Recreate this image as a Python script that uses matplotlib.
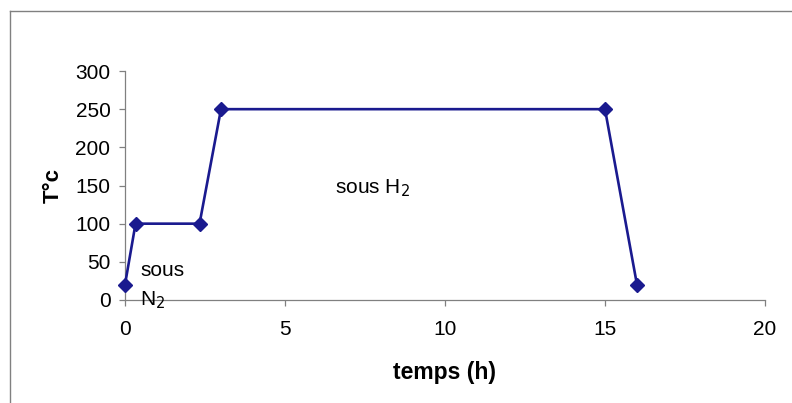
import matplotlib
matplotlib.use('Agg')
import matplotlib.pyplot as plt
from matplotlib.lines import Line2D

plt.rcParams['font.family'] = ['Liberation Sans', 'DejaVu Sans']

# profil de température
temps = [0, 0.33, 2.33, 3, 15, 16]
temperature = [20, 100, 100, 250, 250, 20]

x_ticks = [0, 5, 10, 15, 20]
y_ticks = [0, 50, 100, 150, 200, 250, 300]

fig = plt.figure(figsize=(7.92, 4.03), dpi=100)
ax = fig.add_axes([0.1578, 0.2556, 0.8081, 0.5682])

ax.plot(temps, temperature, color='#1a1a8f', lw=1.9,
        marker='D', markersize=7.5, markerfacecolor='#1a1a8f',
        markeredgecolor='#1a1a8f', clip_on=False, zorder=3)

ax.set_xlim(0, 20)
ax.set_ylim(0, 300)
ax.set_xticks(x_ticks)
ax.set_yticks(y_ticks)

for side in ('top', 'right'):
    ax.spines[side].set_visible(False)
for side in ('left', 'bottom'):
    ax.spines[side].set_color('#808080')
    ax.spines[side].set_linewidth(0.9)
ax.tick_params(direction='out', length=4.5, width=0.9, color='#808080',
               labelsize=15, labelcolor='black')
ax.tick_params(axis='x', pad=10)
ax.tick_params(axis='y', pad=6)

ax.set_xlabel('temps (h)', fontsize=16.5, fontweight='bold', labelpad=16)
ax.set_ylabel('T°c', fontsize=16, fontweight='bold', labelpad=8)

ax.text(0.47, 18, 'sous\nN$_2$', fontsize=15, ha='left', va='center',
        linespacing=1.6)
ax.text(6.56, 147, 'sous H$_2$', fontsize=15, ha='left', va='center')

# cadre autour du graphique
fig.add_artist(Line2D([0.0126, 0.0126], [0, 0.9727], color='#808080', lw=1))
fig.add_artist(Line2D([0.0126, 1], [0.9727, 0.9727], color='#808080', lw=1))

fig.savefig('out.png', dpi=100)
